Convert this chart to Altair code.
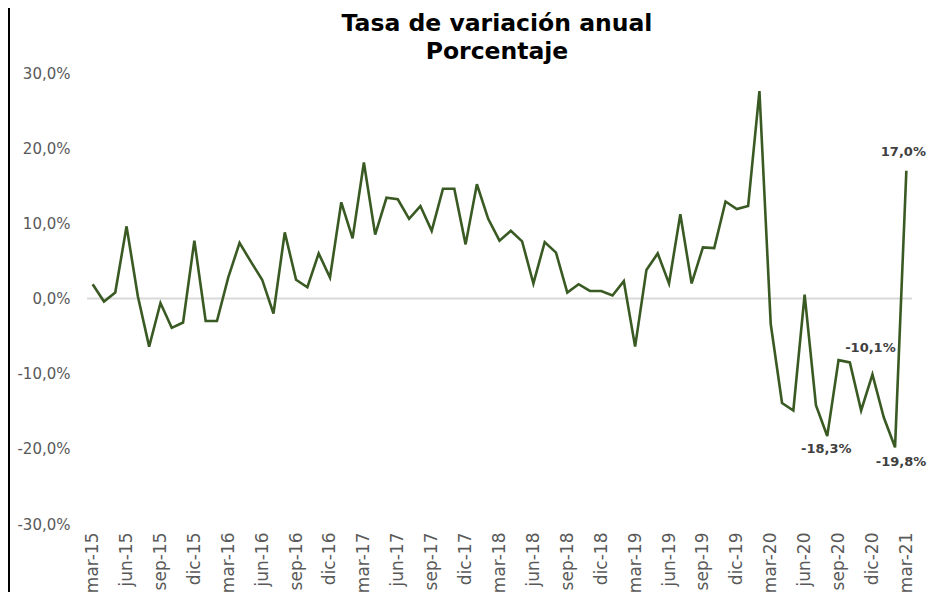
import altair as alt
import pandas as pd

# ---- data -------------------------------------------------------------
month_abbr = ["ene", "feb", "mar", "abr", "may", "jun",
              "jul", "ago", "sep", "oct", "nov", "dic"]

# monthly categories mar-15 ... mar-21
categories = []
for k in range(73):
    mi = (2 + k) % 12
    yr = 15 + (2 + k) // 12
    categories.append(f"{month_abbr[mi]}-{yr}")

values = [
    1.9, -0.4, 0.8, 9.6, 0.3, -6.4, -0.6, -3.9, -3.2, 7.7,      # mar-15 .. dic-15
    -3.0, -3.0, 2.8, 7.4, 4.9, 2.5, -2.0, 8.8, 2.5, 1.5, 6.0, 2.8,  # 2016
    12.8, 8.0, 18.1, 8.5, 13.4, 13.2, 10.6, 12.3, 9.0, 14.6, 14.6, 7.2,  # 2017
    15.2, 10.6, 7.7, 9.0, 7.6, 2.0, 7.5, 6.1, 0.8, 1.9, 1.0, 1.0,  # 2018
    0.4, 2.3, -6.4, 3.8, 6.0, 2.0, 11.2, 2.0, 6.8, 6.7, 12.9, 11.9,  # 2019
    12.3, 27.6, -3.4, -13.9, -14.9, 0.5, -14.2, -18.3, -8.2, -8.5, -14.9, -10.1,  # 2020
    -15.8, -19.8, 17.0,  # 2021
]

tick_labels = categories[::3]
y_ticks = [-30, -20, -10, 0, 10, 20, 30]

labelled_months = ["ago-20", "dic-20", "feb-21", "mar-21"]
title_lines = ["Tasa de variación anual", "Porcentaje"]

df = pd.DataFrame({"mes": categories, "valor": values})
df_lab = df[df["mes"].isin(labelled_months)].copy()

FONT = "DejaVu Sans"
GREEN = "#3a5a23"
PCT = "(datum.{f} < 0 ? '-' : '') + replace(format(abs(datum.{f}), '.1f'), '.', ',') + '%'"

x_enc = alt.X(
    "mes:N", sort=categories, title=None,
    scale=alt.Scale(type="point", padding=0.5),
    axis=alt.Axis(values=tick_labels, labelAngle=270, domain=False, ticks=False,
                  labelPadding=8, labelFontSize=17, labelColor="#595959",
                  labelFont=FONT, grid=False),
)
y_enc = alt.Y(
    "valor:Q", title=None,
    scale=alt.Scale(domain=[-30, 30], nice=False),
    axis=alt.Axis(values=y_ticks, grid=False, domain=False, ticks=False,
                  labelPadding=17, labelFontSize=15, labelColor="#595959",
                  labelFont=FONT, labelExpr=PCT.format(f="value")),
)

zero = alt.Chart(pd.DataFrame({"z": [0]})).mark_rule(
    color="#d9d9d9", strokeWidth=2).encode(y="z:Q")

line = alt.Chart(df).mark_line(color=GREEN, strokeWidth=2.6).encode(x=x_enc, y=y_enc)

left_bar = alt.Chart(pd.DataFrame({"a": [0]})).mark_rule(
    color="black", strokeWidth=2, clip=False).encode(
    x=alt.value(-78), y=alt.value(-75), y2=alt.value(530))

title_layers = []
for txt, ty in zip(title_lines, [-42, -14]):
    title_layers.append(
        alt.Chart(pd.DataFrame({"t": [txt]})).mark_text(
            font=FONT, fontWeight="bold", fontSize=23.5, color="black",
            baseline="alphabetic", align="center", clip=False).encode(
            x=alt.value(410), y=alt.value(ty), text="t:N")
    )

offsets = {"ago-20": (-1, 13), "dic-20": (-2, -26), "feb-21": (6, 15), "mar-21": (-3, -19)}
label_layers = []
for mes in labelled_months:
    dx, dy = offsets[mes]
    label_layers.append(
        alt.Chart(df_lab[df_lab["mes"] == mes]).transform_calculate(
            txt=PCT.format(f="valor")
        ).mark_text(font=FONT, fontWeight="bold", fontSize=13, color="#404040",
                    dx=dx, dy=dy).encode(
            x=alt.X("mes:N", sort=categories), y=alt.Y("valor:Q"), text="txt:N")
    )

chart = alt.layer(zero, line, left_bar, *title_layers, *label_layers).properties(
    width=825, height=451,
    autosize=alt.AutoSizeParams(type="none"),
    padding={"left": 79, "top": 65, "right": 15, "bottom": 68},
).configure_view(stroke=None)

chart.save("out.html", embed_options={"renderer": "svg", "actions": False})
